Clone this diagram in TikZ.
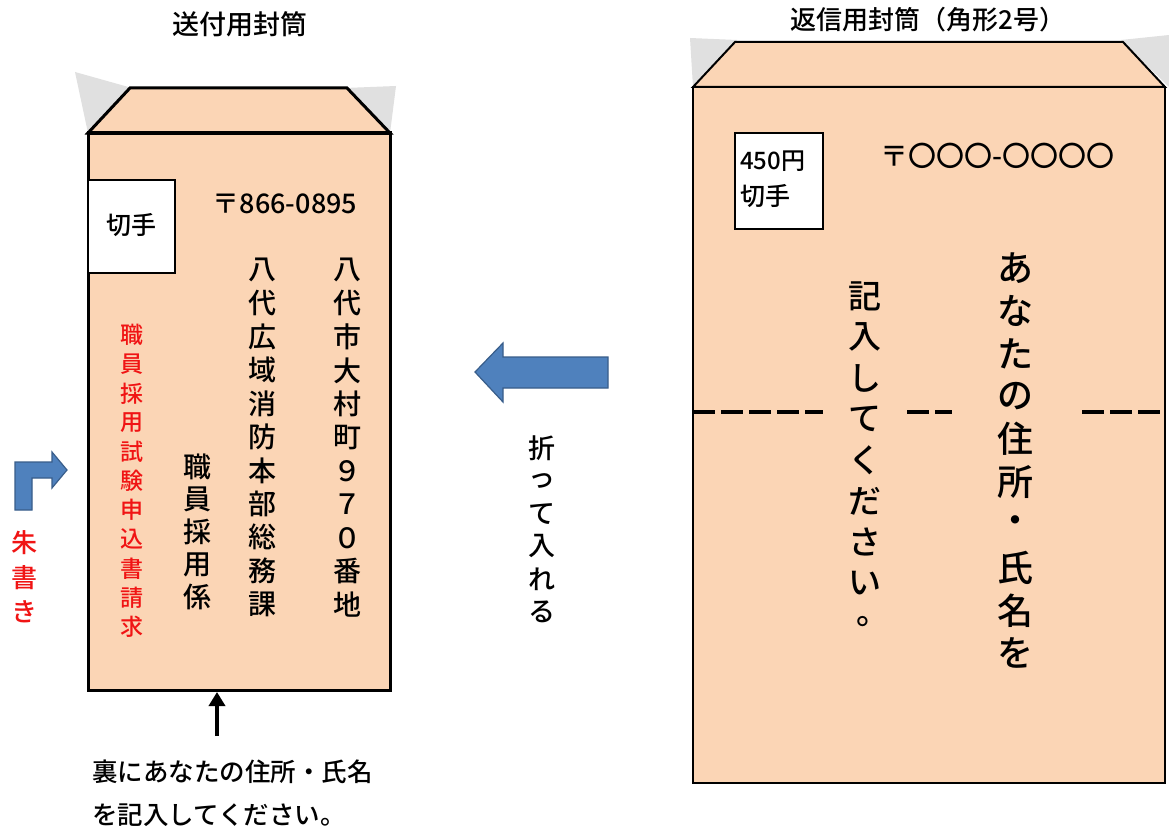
\documentclass[tikz,border=0pt]{standalone}
\usepackage{fontspec}
\IfFontExistsTF{Noto Sans CJK JP Medium}{\setmainfont{Noto Sans CJK JP Medium}}{\setmainfont{Noto Sans CJK JP}}
\usetikzlibrary{arrows.meta}
\definecolor{env}{RGB}{251,213,181}
\definecolor{flapgray}{RGB}{224,224,224}
\definecolor{arrowblue}{RGB}{79,129,189}
\definecolor{arrowedge}{RGB}{56,93,138}
\definecolor{redtext}{RGB}{240,20,20}
\begin{document}
\begin{tikzpicture}[x=1pt,y=-1pt,
  envline/.style={draw=black,line width=3pt,line join=miter},
  envlinethin/.style={draw=black,line width=2pt,line join=miter},
  txt/.style={inner sep=0pt,font=\fontsize{#1}{#1}\selectfont},
  txt/.default=25,
  redch/.style={inner sep=0pt,text=redtext,font=\fontsize{23}{23}\selectfont},
  blackch/.style={inner sep=0pt,font=\fontsize{28}{28}\selectfont},
  bigch/.style={inner sep=0pt,font=\fontsize{36}{36}\selectfont},
  bluearrow/.style={fill=arrowblue,draw=arrowedge,line width=1.2pt,line join=miter},
  foldline/.style={draw=black,line width=4pt,dash pattern=on 22pt off 6pt}
]
\useasboundingbox (0,0) rectangle (1169,832);
\fill[white] (0,0) rectangle (1169,832);

% ---------- titles ----------
\node[txt=27] (title1) at (240,24) {送付用封筒};
\node[txt=26] (title2) at (928,20) {返信用封筒（角形2号）};

% ---------- left envelope ----------
\fill[flapgray] (75,72) -- (132,88) -- (88,133) -- cycle;
\fill[flapgray] (345,88) -- (396,86) -- (390,133) -- cycle;
\filldraw[env,envline] (88,133) -- (130,88) -- (347,88) -- (390,133) -- cycle;
\filldraw[env,envline] (88,133) rectangle (390,690);
\coordinate (lbottom) at (217,692);
\filldraw[fill=white,draw=black,line width=2.5pt] (88,180) rectangle (175,273);
\node[txt=25] (stamp1) at (131,225) {切手};
\node[txt=27] (zip1) at (285,204) {〒866-0895};

\foreach \c [count=\i] in {八,代,市,大,村,町,９,７,０,番,地}
  \node[blackch] (addrA\i) at (347,{270+(\i-1)*33.5}) {\c};
\foreach \c [count=\i] in {八,代,広,域,消,防,本,部,総,務,課}
  \node[blackch] (addrB\i) at (262,{270+(\i-1)*33.4}) {\c};
\foreach \c [count=\i] in {職,員,採,用,係}
  \node[blackch] (addrC\i) at (197,{467+(\i-1)*32.5}) {\c};
\foreach \c [count=\i] in {職,員,採,用,試,験,申,込,書,請,求}
  \node[redch] (req\i) at (132,{335+(\i-1)*29.2}) {\c};

% bent arrow + 朱書き
\filldraw[bluearrow] (15,510) -- (15,462) -- (52,462) -- (52,452) -- (67,470)
  -- (52,488) -- (52,478) -- (32,478) -- (32,510) -- cycle;
\foreach \c [count=\i] in {朱,書,き}
  \node[redch,font=\fontsize{26}{26}\selectfont] (shu\i) at (25,{543+(\i-1)*34.5}) {\c};

% bottom arrow and note
\coordinate (afoot) at (217,736);
\draw[line width=4pt,-{Triangle[length=14pt,width=16pt]}] (afoot) -- (lbottom);
\node[txt=25.5,anchor=west] (note1) at (92,772) {裏にあなたの住所・氏名};
\node[txt=25.5,anchor=west] (note2) at (92,815) {を記入してください。};

% ---------- middle arrow ----------
\filldraw[bluearrow] (475,372) -- (503,343) -- (503,357) -- (608,357)
  -- (608,388) -- (503,388) -- (503,402) -- cycle;
\foreach \c [count=\i] in {折,っ,て,入,れ,る}
  \node[txt=27] (fold\i) at (542,{448+(\i-1)*32.8}) {\c};

% ---------- right envelope ----------
\fill[flapgray] (690,38) -- (737,40) -- (693,87) -- cycle;
\fill[flapgray] (1121,40) -- (1169,35) -- (1169,87) -- cycle;
\filldraw[env,envlinethin] (693,87) -- (735,42) -- (1123,42) -- (1165,87) -- cycle;
\filldraw[env,envlinethin] (693,87) rectangle (1165,783);
\filldraw[fill=white,draw=black,line width=2pt] (735,133) rectangle (823,229);
\node[txt=24,anchor=west] (stampv) at (740,161) {450円};
\node[txt=25,anchor=west] (stampt) at (740,196) {切手};
\node[txt=28] (zip2) at (997,156) {〒〇〇〇-〇〇〇〇};

% fold line
\draw[foldline] (693,412) -- (823,412);
\draw[foldline] (907,412) -- (952,412);
\draw[foldline] (1082,412) -- (1165,412);

\foreach \c [count=\i] in {あ,な,た,の,住,所,・,氏,名,を}
  \node[bigch] (name\i) at (1015,{268+(\i-1)*42.8}) {\c};
\foreach \c [count=\i] in {記,入,し,て,く,だ,さ,い}
  \node[bigch,font=\fontsize{33}{33}\selectfont] (fill\i) at (865,{296+(\i-1)*41}) {\c};
\node[bigch,font=\fontsize{33}{33}\selectfont] (fill9) at (873,622) {。};
\end{tikzpicture}
\end{document}
